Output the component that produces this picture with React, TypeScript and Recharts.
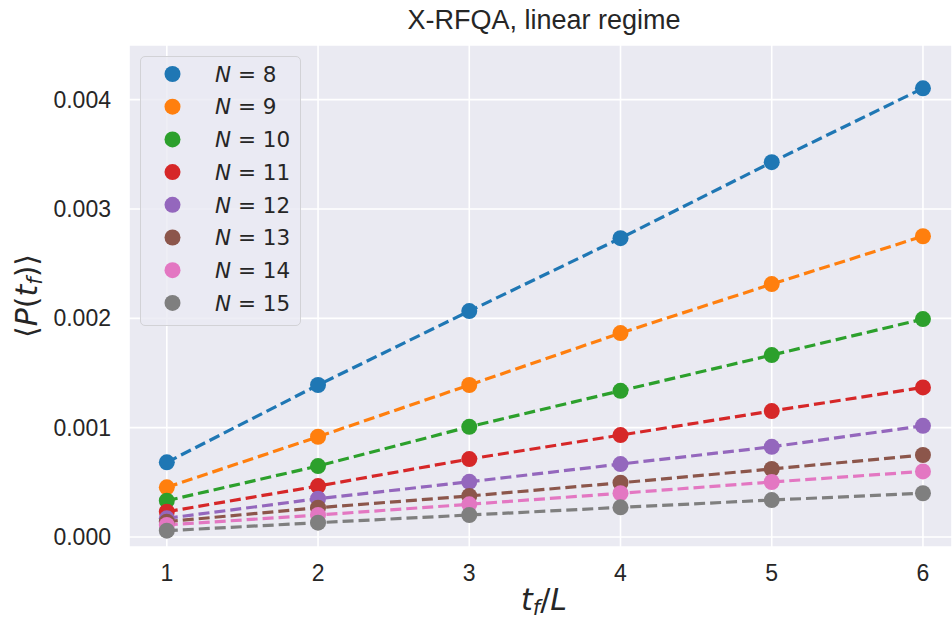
import React from 'react';
import {
  LineChart,
  Line,
  XAxis,
  YAxis,
  CartesianGrid,
  Legend,
} from 'recharts';

const tValues = [1, 2, 3, 4, 5, 6];
const n8 = [0.000683, 0.00139, 0.002066, 0.002733, 0.003428, 0.004104];
const n9 = [0.000454, 0.000917, 0.00139, 0.001865, 0.002313, 0.002751];
const n10 = [0.000332, 0.000649, 0.001008, 0.001337, 0.001664, 0.001993];
const n11 = [0.000231, 0.000466, 0.000713, 0.000932, 0.001152, 0.001368];
const n12 = [0.000171, 0.00035, 0.000505, 0.000667, 0.000825, 0.001017];
const n13 = [0.00014, 0.000268, 0.000375, 0.000496, 0.000622, 0.00075];
const n14 = [0.00011, 0.000201, 0.000299, 0.0004, 0.000503, 0.0006];
const n15 = [0.0000576, 0.000131, 0.000201, 0.000271, 0.000338, 0.0004];

const xTicks = [1, 2, 3, 4, 5, 6];
const yTicks = [0, 0.001, 0.002, 0.003, 0.004];

const series = [
  { key: 'n8', label: '8', values: n8, color: '#1f77b4' },
  { key: 'n9', label: '9', values: n9, color: '#ff7f0e' },
  { key: 'n10', label: '10', values: n10, color: '#2ca02c' },
  { key: 'n11', label: '11', values: n11, color: '#d62728' },
  { key: 'n12', label: '12', values: n12, color: '#9467bd' },
  { key: 'n13', label: '13', values: n13, color: '#8c564b' },
  { key: 'n14', label: '14', values: n14, color: '#e377c2' },
  { key: 'n15', label: '15', values: n15, color: '#7f7f7f' },
];

const data = tValues.map((t, i) => {
  const row: Record<string, number> = { t };
  series.forEach((s) => {
    row[s.key] = s.values[i];
  });
  return row;
});

const TEXT = '#262626';
const TICK_FONT = '"Liberation Sans", Arial, sans-serif';
const MATH_FONT = '"DejaVu Sans", sans-serif';

const LegendBox = () => (
  <div
    style={{
      width: 161,
      height: 270,
      boxSizing: 'border-box',
      background: 'rgba(234,234,242,0.8)',
      border: '1.5px solid #d2d2d6',
      borderRadius: 5,
    }}
  >
    <svg width={158} height={267} style={{ display: 'block' }}>
      {series.map((s, i) => (
        <g key={s.key} transform={`translate(0, ${17 + i * 32.7})`}>
          <circle cx={31.5} cy={0} r={8} fill={s.color} />
          <text
            x={74}
            y={0}
            dy="0.36em"
            fontFamily={MATH_FONT}
            fontSize={21.5}
            fill={TEXT}
          >
            <tspan fontStyle="italic">N</tspan>
            <tspan> = {s.label}</tspan>
          </text>
        </g>
      ))}
    </svg>
  </div>
);

export default function App() {
  return (
    <div style={{ position: 'absolute', left: 0, top: 0, width: 952, height: 622, background: '#fff', overflow: 'hidden' }}>
      <LineChart
        width={952}
        height={622}
        data={data}
        margin={{ top: 45, right: 0, left: 0, bottom: 0 }}
      >
        <CartesianGrid stroke="#ffffff" strokeWidth={1.6} fill="#eaeaf2" />
        <XAxis
          dataKey="t"
          type="number"
          domain={[0.75, 6.192]}
          ticks={xTicks}
          allowDataOverflow
          height={75}
          axisLine={false}
          tickLine={false}
          tickSize={0}
          tickMargin={18}
          tick={{ fontSize: 23, fill: TEXT, fontFamily: TICK_FONT }}
        />
        <YAxis
          type="number"
          domain={[-0.0000915, 0.0045]}
          ticks={yTicks}
          allowDataOverflow
          width={129}
          axisLine={false}
          tickLine={false}
          tickSize={0}
          tickMargin={18}
          tickFormatter={(v: number) => v.toFixed(3)}
          tick={{ fontSize: 23, fill: TEXT, fontFamily: TICK_FONT }}
        />
        <Legend
          layout="vertical"
          align="center"
          verticalAlign="middle"
          content={() => <LegendBox />}
          wrapperStyle={{ left: 140, top: 56, width: 161, height: 270 }}
        />
        {series.map((s) => (
          <Line
            key={s.key}
            type="linear"
            dataKey={s.key}
            stroke={s.color}
            strokeWidth={3.2}
            strokeDasharray="11 5"
            dot={{ r: 8, fill: s.color, stroke: 'none', strokeWidth: 0 }}
            activeDot={false}
            isAnimationActive={false}
          />
        ))}
      </LineChart>
      <svg
        width={952}
        height={622}
        style={{ position: 'absolute', left: 0, top: 0, pointerEvents: 'none' }}
      >
        <text x={544} y={29} textAnchor="middle" fontFamily={TICK_FONT} fontSize={27} fill={TEXT}>
          X-RFQA, linear regime
        </text>
        <text
          x={0}
          y={0}
          transform="translate(37, 296) rotate(-90)"
          textAnchor="middle"
          fontFamily={MATH_FONT}
          fontSize={30}
          fill={TEXT}
        >
          <tspan>⟨</tspan>
          <tspan fontStyle="italic">P</tspan>
          <tspan>(</tspan>
          <tspan fontStyle="italic">t</tspan>
          <tspan fontStyle="italic" fontSize={21} dy={5}>f</tspan>
          <tspan dy={-5}>)⟩</tspan>
        </text>
        <text x={544} y={610} textAnchor="middle" fontFamily={MATH_FONT} fontSize={30} fill={TEXT}>
          <tspan fontStyle="italic">t</tspan>
          <tspan fontStyle="italic" fontSize={21} dy={5}>f</tspan>
          <tspan dy={-5}>/</tspan>
          <tspan fontStyle="italic">L</tspan>
        </text>
      </svg>
    </div>
  );
}
